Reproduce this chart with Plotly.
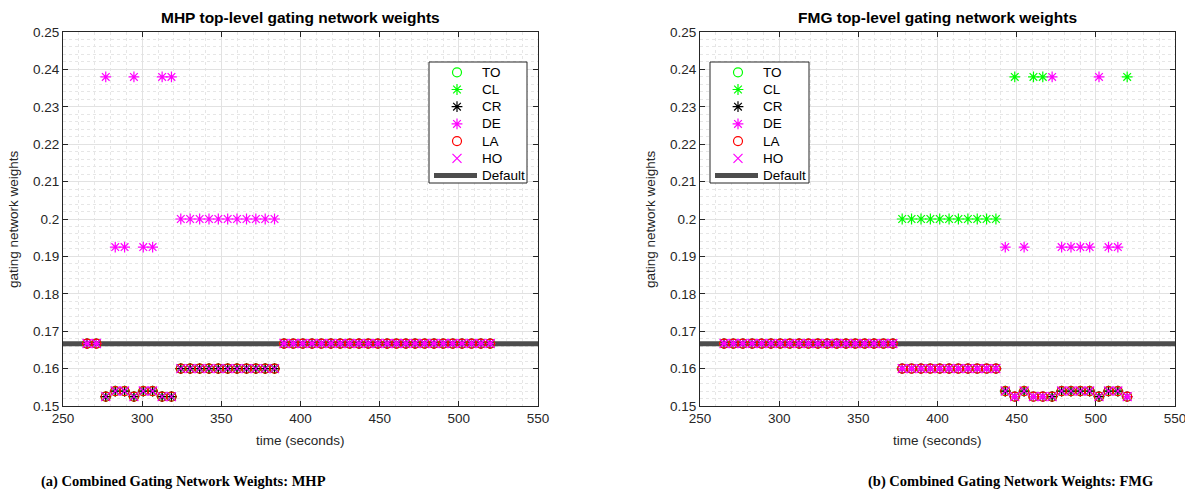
import plotly.graph_objects as go

# Sample times (seconds) shared by both experiments
times = [265.2, 271.1, 277.0, 283.0, 288.9, 294.8, 300.7, 306.6, 312.6, 318.5,
         324.4, 330.3, 336.3, 342.2, 348.1, 354.0, 359.9, 365.9, 371.8, 377.7,
         383.6, 389.6, 395.5, 401.4, 407.3, 413.2, 419.2, 425.1, 431.0, 436.9,
         442.8, 448.8, 454.7, 460.6, 466.5, 472.4, 478.4, 484.3, 490.2, 496.1,
         502.0, 508.0, 513.9, 519.8]

# MHP experiment: TO, CL, CR, LA, HO share the same weights, DE differs
mhp_to = [0.1667, 0.1667, 0.1525, 0.154, 0.154, 0.1525, 0.154, 0.154, 0.1525, 0.1525,
          0.16, 0.16, 0.16, 0.16, 0.16, 0.16, 0.16, 0.16, 0.16, 0.16, 0.16,
          0.1667, 0.1667, 0.1667, 0.1667, 0.1667, 0.1667, 0.1667, 0.1667, 0.1667, 0.1667,
          0.1667, 0.1667, 0.1667, 0.1667, 0.1667, 0.1667, 0.1667, 0.1667, 0.1667, 0.1667,
          0.1667, 0.1667, 0.1667]
mhp_cl = list(mhp_to)
mhp_cr = list(mhp_to)
mhp_la = list(mhp_to)
mhp_ho = list(mhp_to)
mhp_de = [0.1667, 0.1667, 0.238, 0.1925, 0.1925, 0.238, 0.1925, 0.1925, 0.238, 0.238,
          0.2, 0.2, 0.2, 0.2, 0.2, 0.2, 0.2, 0.2, 0.2, 0.2, 0.2,
          0.1667, 0.1667, 0.1667, 0.1667, 0.1667, 0.1667, 0.1667, 0.1667, 0.1667, 0.1667,
          0.1667, 0.1667, 0.1667, 0.1667, 0.1667, 0.1667, 0.1667, 0.1667, 0.1667, 0.1667,
          0.1667, 0.1667, 0.1667]

# FMG experiment: TO, CR, LA, HO share weights; CL and DE differ
fmg_to = [0.1667, 0.1667, 0.1667, 0.1667, 0.1667, 0.1667, 0.1667, 0.1667, 0.1667, 0.1667,
          0.1667, 0.1667, 0.1667, 0.1667, 0.1667, 0.1667, 0.1667, 0.1667, 0.1667,
          0.16, 0.16, 0.16, 0.16, 0.16, 0.16, 0.16, 0.16, 0.16, 0.16, 0.16,
          0.154, 0.1525, 0.154, 0.1525, 0.1525, 0.1525, 0.154, 0.154, 0.154, 0.154,
          0.1525, 0.154, 0.154, 0.1525]
fmg_cr = list(fmg_to)
fmg_la = list(fmg_to)
fmg_ho = list(fmg_to)
fmg_cl = [0.1667, 0.1667, 0.1667, 0.1667, 0.1667, 0.1667, 0.1667, 0.1667, 0.1667, 0.1667,
          0.1667, 0.1667, 0.1667, 0.1667, 0.1667, 0.1667, 0.1667, 0.1667, 0.1667,
          0.2, 0.2, 0.2, 0.2, 0.2, 0.2, 0.2, 0.2, 0.2, 0.2, 0.2,
          0.154, 0.238, 0.154, 0.238, 0.238, 0.1525, 0.154, 0.154, 0.154, 0.154,
          0.1525, 0.154, 0.154, 0.238]
fmg_de = [0.1667, 0.1667, 0.1667, 0.1667, 0.1667, 0.1667, 0.1667, 0.1667, 0.1667, 0.1667,
          0.1667, 0.1667, 0.1667, 0.1667, 0.1667, 0.1667, 0.1667, 0.1667, 0.1667,
          0.16, 0.16, 0.16, 0.16, 0.16, 0.16, 0.16, 0.16, 0.16, 0.16, 0.16,
          0.1925, 0.1525, 0.1925, 0.1525, 0.1525, 0.238, 0.1925, 0.1925, 0.1925, 0.1925,
          0.238, 0.1925, 0.1925, 0.1525]

default_weight = 1 / 6
x_range = [250, 550]
y_range = [0.15, 0.25]
y_ticks = [0.15, 0.16, 0.17, 0.18, 0.19, 0.2, 0.21, 0.22, 0.23, 0.24, 0.25]
y_ticktext = ["0.15", "0.16", "0.17", "0.18", "0.19", "0.2", "0.21", "0.22", "0.23", "0.24", "0.25"]
x_ticks = [250, 300, 350, 400, 450, 500, 550]
legend_names = ["TO", "CL", "CR", "DE", "LA", "HO", "Default"]

W, H = 1185, 495
FONT = "Liberation Sans, Arial, Helvetica, sans-serif"
SERIF = "Liberation Serif, Times New Roman, serif"

# plot-area geometry in pixels
AX_TOP, AX_BOTTOM = 32, 406
AX_W = 475

styles = {
    "TO": dict(symbol="circle-open", color="#00ff00"),
    "CL": dict(symbol="asterisk-open", color="#00ff00"),
    "CR": dict(symbol="asterisk-open", color="#000000"),
    "DE": dict(symbol="asterisk-open", color="#ff00ff"),
    "LA": dict(symbol="circle-open", color="#ff0000"),
    "HO": dict(symbol="x-thin-open", color="#ff00ff"),
}
MSIZE = 9

panels = [
    dict(xa="x", ya="y", left=63, legend_left=429, legend_w=98,
         title="MHP top-level gating network weights",
         caption="(a) Combined Gating Network Weights: MHP", caption_x=183, ylab_x=14,
         series={"TO": mhp_to, "CL": mhp_cl, "CR": mhp_cr, "DE": mhp_de, "LA": mhp_la, "HO": mhp_ho}),
    dict(xa="x2", ya="y2", left=700, legend_left=710, legend_w=99,
         title="FMG top-level gating network weights",
         caption="(b) Combined Gating Network Weights: FMG", caption_x=1010, ylab_x=651,
         series={"TO": fmg_to, "CL": fmg_cl, "CR": fmg_cr, "DE": fmg_de, "LA": fmg_la, "HO": fmg_ho}),
]


def px_x(v):
    return v / W


def px_y(v):
    return 1 - v / H


fig = go.Figure()
shapes = []
annotations = []

for p in panels:
    # reference line at uniform weighting, drawn under the markers
    fig.add_trace(go.Scatter(
        x=x_range, y=[default_weight, default_weight], mode="lines",
        line=dict(color="#4d4d4d", width=5), name="Default",
        xaxis=p["xa"], yaxis=p["ya"], showlegend=False, hoverinfo="skip",
    ))
    for name, vals in p["series"].items():
        st = styles[name]
        fig.add_trace(go.Scatter(
            x=times, y=vals, mode="markers", name=name,
            marker=dict(symbol=st["symbol"], size=MSIZE, color=st["color"],
                        line=dict(color=st["color"], width=1.2)),
            xaxis=p["xa"], yaxis=p["ya"], showlegend=False,
        ))

    # boxed legend in the upper part of the axes
    left = p["left"]

    def dx(px, left=left):
        return x_range[0] + (px - left) * (x_range[1] - x_range[0]) / AX_W

    def dy(py):
        return y_range[1] - (py - AX_TOP) * (y_range[1] - y_range[0]) / (AX_BOTTOM - AX_TOP)

    lg_l, lg_t, lg_w, lg_h = p["legend_left"], 62, p["legend_w"], 121
    shapes.append(dict(type="rect", xref=p["xa"], yref=p["ya"], layer="between",
                       x0=dx(lg_l), x1=dx(lg_l + lg_w), y0=dy(lg_t), y1=dy(lg_t + lg_h),
                       fillcolor="white", line=dict(color="#262626", width=1)))
    for i, name in enumerate(legend_names):
        cy = lg_t + 10.3 + i * 17.2
        if name == "Default":
            fig.add_trace(go.Scatter(
                x=[dx(lg_l + 5), dx(lg_l + 48)], y=[dy(cy), dy(cy)], mode="lines",
                line=dict(color="#4d4d4d", width=5), showlegend=False, hoverinfo="skip",
                xaxis=p["xa"], yaxis=p["ya"]))
        else:
            st = styles[name]
            fig.add_trace(go.Scatter(
                x=[dx(lg_l + 28)], y=[dy(cy)], mode="markers", showlegend=False, hoverinfo="skip",
                marker=dict(symbol=st["symbol"], size=MSIZE, color=st["color"],
                            line=dict(color=st["color"], width=1.2)),
                xaxis=p["xa"], yaxis=p["ya"]))
        annotations.append(dict(x=px_x(lg_l + 51), y=px_y(cy), text=name, showarrow=False,
                                xref="paper", yref="paper", xanchor="left", yanchor="middle",
                                font=dict(family=FONT, size=13.5, color="#000000")))

    cx = left + AX_W / 2
    annotations.append(dict(x=px_x(cx), y=px_y(17), text=f"<b>{p['title']}</b>", showarrow=False,
                            xref="paper", yref="paper", xanchor="center", yanchor="middle",
                            font=dict(family=FONT, size=15.5, color="#000000")))
    annotations.append(dict(x=px_x(cx), y=px_y(440), text="time (seconds)", showarrow=False,
                            xref="paper", yref="paper", xanchor="center", yanchor="middle",
                            font=dict(family=FONT, size=13.5, color="#262626")))
    annotations.append(dict(x=px_x(p["ylab_x"]), y=px_y(219), text="gating network weights",
                            showarrow=False, xref="paper", yref="paper", xanchor="center",
                            yanchor="middle", textangle=-90,
                            font=dict(family=FONT, size=13.5, color="#262626")))
    annotations.append(dict(x=px_x(p["caption_x"]), y=px_y(481), text=f"<b>{p['caption']}</b>",
                            showarrow=False, xref="paper", yref="paper", xanchor="center",
                            yanchor="middle", font=dict(family=SERIF, size=14.5, color="#000000")))

axis_common = dict(
    showline=True, linecolor="#262626", linewidth=1, mirror="ticks",
    ticks="inside", ticklen=5, tickcolor="#262626", tickwidth=1,
    showgrid=True, gridcolor="#e2e2e2", gridwidth=1, zeroline=False, automargin=False,
    tickfont=dict(family=FONT, size=13.5, color="#262626"),
)
minor_x = dict(dtick=10, showgrid=True, gridcolor="#e6e6e6", griddash="dot", ticks="")
minor_y = dict(dtick=0.002, showgrid=True, gridcolor="#e6e6e6", griddash="dot", ticks="")

ydom = [px_y(AX_BOTTOM), px_y(AX_TOP)]
x1dom = [px_x(63), px_x(63 + AX_W)]
x2dom = [px_x(700), px_x(700 + AX_W)]

fig.update_layout(
    template="none",
    width=W, height=H, margin=dict(l=0, r=0, t=0, b=0, autoexpand=False),
    paper_bgcolor="white", plot_bgcolor="white", showlegend=False,
    xaxis=dict(domain=x1dom, range=x_range, tickvals=x_ticks, minor=minor_x, anchor="y",
               ticklabeloverflow="allow", **axis_common),
    yaxis=dict(domain=ydom, range=y_range, tickvals=y_ticks, ticktext=y_ticktext,
               minor=minor_y, anchor="x", **axis_common),
    xaxis2=dict(domain=x2dom, range=x_range, tickvals=x_ticks, minor=minor_x, anchor="y2",
                ticklabeloverflow="allow", **axis_common),
    yaxis2=dict(domain=ydom, range=y_range, tickvals=y_ticks, ticktext=y_ticktext,
                minor=minor_y, anchor="x2", **axis_common),
    shapes=shapes,
    annotations=annotations,
)

fig.write_html("out.html")
